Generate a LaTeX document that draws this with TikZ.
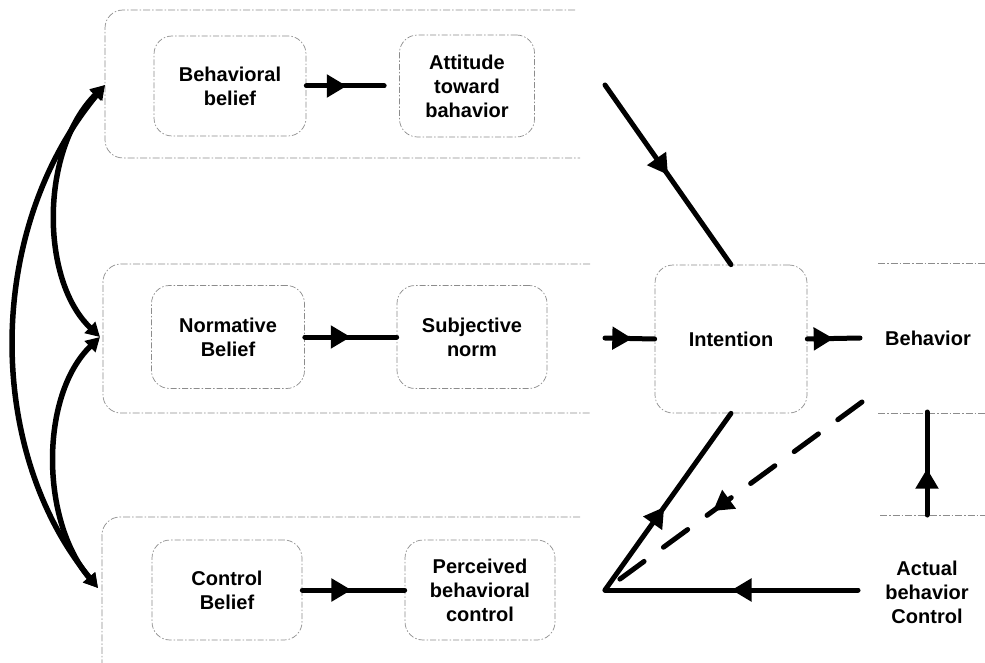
\documentclass[tikz,border=0pt]{standalone}
\usepackage{fontspec}
\setmainfont{Liberation Sans}
\usetikzlibrary{arrows.meta,decorations.markings}
\begin{document}
\begin{tikzpicture}[x=1pt,y=-1pt,
  grp/.style={draw=black!45,line width=0.7pt,dash pattern=on 7pt off 2pt on 1.5pt off 2pt},
  inbox/.style={draw=black!45,line width=0.7pt,dash pattern=on 6pt off 2pt on 1.5pt off 2pt,rounded corners=18pt,align=center,font=\fontsize{20}{24}\selectfont\bfseries,inner sep=0pt},
  lbl/.style={align=center,font=\fontsize{20}{24}\selectfont\bfseries,inner sep=0pt},
  conn/.style={line width=5pt,line cap=round,black},
  marrow/.style={postaction={decorate},decoration={markings,mark=at position #1 with {\arrow{Triangle[length=20pt,width=22pt]}}}},
  curv/.style={line width=5.5pt,black,{Triangle[length=14pt,width=15pt]}-{Triangle[length=14pt,width=15pt]}}
]
\useasboundingbox (0,0) rectangle (985,663);
% group frames
\draw[grp,rounded corners=18pt] (575,10) -- (105,10) -- (105,158) -- (580,158);
\draw[grp,rounded corners=18pt] (590,264) -- (103,264) -- (103,413) -- (590,413);
\draw[grp,rounded corners=18pt] (580,517) -- (102,517) -- (102,670);
% inner boxes
\node[inbox,minimum width=152pt,minimum height=100pt] (bb) at (230,86) {Behavioral\\belief};
\node[inbox,minimum width=135pt,minimum height=102pt] (att) at (467,86) {Attitude\\toward\\bahavior};
\node[inbox,minimum width=153pt,minimum height=103pt] (nb) at (228,337) {Normative\\Belief};
\node[inbox,minimum width=150pt,minimum height=103pt] (sn) at (472,337) {Subjective\\norm};
\node[inbox,minimum width=150pt,minimum height=100pt] (cb) at (227,590) {Control\\Belief};
\node[inbox,minimum width=150pt,minimum height=100pt] (pbc) at (480,590) {Perceived\\behavioral\\control};
\node[inbox,minimum width=152pt,minimum height=148pt] (int) at (731,339) {Intention};
\node[lbl] (beh) at (928,338) {Behavior};
\node[lbl] (abc) at (927,592) {Actual\\behavior\\Control};
% behavior / actual control frames
\draw[grp] (878,263) -- (985,263);
\draw[grp] (878,413) -- (985,413);
\draw[grp] (880,515) -- (985,515);
% junction coordinates
\coordinate (g1) at (605,85);
\coordinate (g2) at (605,338);
\coordinate (pj) at (605,590);
\coordinate (bo) at (860,338);
\coordinate (dsh) at (862,402);
\coordinate (ac) at (858,590);
\coordinate (abtop) at (927,412);
\coordinate (abbot) at (927,515);
% row connectors
\draw[conn,marrow=0.52] (bb.east) -- ([xshift=-15pt]att.west);
\draw[conn,marrow=0.5] (nb.east) -- (sn.west);
\draw[conn,marrow=0.48] (cb.east) -- (pbc.west);
\draw[conn,marrow=0.5] (g1) -- (int.north);
\draw[conn,marrow=0.55] (g2) -- (int.west);
\draw[conn,marrow=0.5] (int.east) -- (bo);
\draw[conn,marrow=0.47] (pj) -- (int.south);
\draw[conn,dash pattern=on 30pt off 24pt,marrow=0.58] (dsh) -- (pj);
\draw[conn,marrow=0.5] (ac) -- (pj);
\draw[conn,marrow=0.45] (abbot) -- (abtop);
% left curved arrows
\coordinate (lt) at (105,85);
\coordinate (lm) at (100,337);
\coordinate (lb) at (98,588);
\draw[curv] (lt) .. controls (-15,230) and (-15,450) .. (lb);
\draw[curv] (lt) .. controls (40,150) and (40,280) .. (lm);
\draw[curv] (lm) .. controls (40,395) and (40,520) .. (lb);
\end{tikzpicture}
\end{document}
